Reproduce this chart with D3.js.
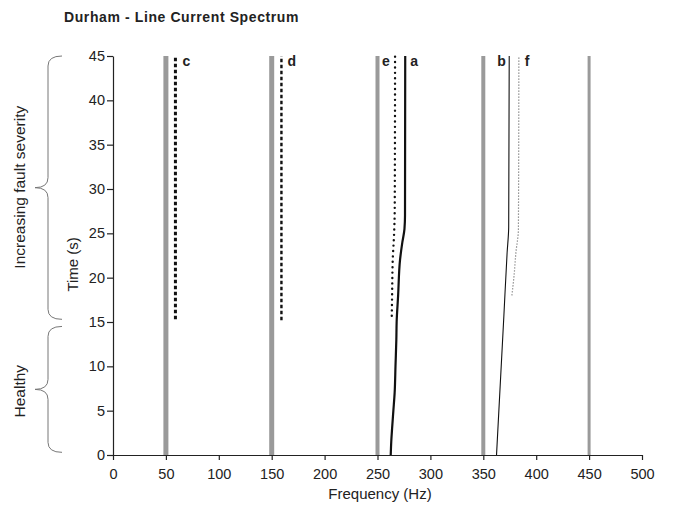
<!DOCTYPE html>
<html>
<head>
<meta charset="utf-8">
<script src="https://cdn.jsdelivr.net/npm/d3@7"></script>
<style>
  body { margin: 0; background: #fff; }
  svg { font-family: "Liberation Sans", Arial, sans-serif; }
</style>
</head>
<body>
<svg width="674" height="507"></svg>
<script>
// harmonic lines of the supply (Hz)
const harmonics = [50, 150, 250, 350, 450];
const harmonicWidths = [5, 5, 4, 4, 3];

// traced fault components: [time (s), frequency (Hz)]
const seriesA = [[0, 262.5], [1.5, 263], [3, 263.8], [5, 265], [7, 266.2], [10, 267], [13, 267.8],
  [15, 268.1], [18, 269.5], [22, 271.3], [24, 273.5], [25.5, 275.5], [27, 276], [45, 276.2]];
const seriesB = [[0, 362.5], [15.6, 369.4], [22.8, 372.5], [25.7, 374], [45, 374.5]];
const seriesC = [[15.3, 59], [45, 59]];
const seriesD = [[15.2, 159.2], [45, 159.2]];
const seriesE = [[15.7, 263.5], [18, 263.8], [22, 264.4], [25, 265.7], [28, 266.3], [45, 266.6]];
const seriesF = [[18, 377], [20.5, 379.3], [22.8, 380.8], [25.5, 383.2], [45, 383.6]];

const xTicks = [0, 50, 100, 150, 200, 250, 300, 350, 400, 450, 500];
const yTicks = [0, 5, 10, 15, 20, 25, 30, 35, 40, 45];

const svg = d3.select('svg');

const xScale = d3.scaleLinear().domain([0, 500]).range([113, 642]);
const yScale = d3.scaleLinear().domain([0, 45]).range([455, 56]);

// title
svg.append('text')
    .attr('x', 64)
    .attr('y', 22)
    .attr('font-size', 14)
    .attr('font-weight', 'bold')
    .attr('letter-spacing', 0.6)
    .attr('fill', '#222')
    .text('Durham - Line Current Spectrum');

// harmonic bars
svg.append('g')
    .selectAll('line')
    .data(harmonics)
    .join('line')
    .attr('x1', d => xScale(d))
    .attr('x2', d => xScale(d))
    .attr('y1', yScale(0))
    .attr('y2', yScale(45))
    .attr('stroke', '#9a9a9a')
    .attr('stroke-width', (d, i) => harmonicWidths[i]);

const line = d3.line()
    .x(d => xScale(d[1]))
    .y(d => yScale(d[0]))
    .curve(d3.curveMonotoneY);

const traces = [
  {name: 'a', data: seriesA, color: '#111', width: 2.2, dash: null, cap: 'butt', dx: 5},
  {name: 'b', data: seriesB, color: '#111', width: 1.1, dash: null, cap: 'butt', dx: -12},
  {name: 'c', data: seriesC, color: '#111', width: 3, dash: '3.5,2.5', cap: 'butt', dx: 7},
  {name: 'd', data: seriesD, color: '#111', width: 2.4, dash: '3.5,2.5', cap: 'butt', dx: 6},
  {name: 'e', data: seriesE, color: '#111', width: 2.4, dash: '0,5.4', cap: 'round', dx: -13},
  {name: 'f', data: seriesF, color: '#777', width: 1.2, dash: '1.2,1.8', cap: 'butt', dx: 6},
];

traces.forEach(t => {
  svg.append('path')
      .attr('d', line(t.data))
      .attr('fill', 'none')
      .attr('stroke', t.color)
      .attr('stroke-width', t.width)
      .attr('stroke-linecap', t.cap)
      .attr('stroke-dasharray', t.dash);
  const top = t.data[t.data.length - 1];
  svg.append('text')
      .attr('x', xScale(top[1]) + t.dx)
      .attr('y', yScale(45) + 10)
      .attr('font-size', 14)
      .attr('font-weight', 'bold')
      .attr('fill', '#222')
      .text(t.name);
});

// axes
const xAxis = d3.axisBottom(xScale)
    .tickValues(xTicks)
    .tickSize(5)
    .tickSizeOuter(0);
const xAxisG = svg.append('g')
    .attr('transform', `translate(0, ${yScale(0)})`)
    .call(xAxis);

const yAxis = d3.axisLeft(yScale)
    .tickValues(yTicks)
    .tickSize(6)
    .tickSizeOuter(0);
const yAxisG = svg.append('g')
    .attr('transform', `translate(${xScale(0)}, 0)`)
    .call(yAxis);

[xAxisG, yAxisG].forEach(g => {
  g.selectAll('path, line').attr('stroke', '#222').attr('stroke-width', 1.2);
  g.selectAll('text')
      .attr('font-size', 14.5)
      .attr('fill', '#222')
      .attr('font-family', '"Liberation Sans", Arial, sans-serif');
});
xAxisG.selectAll('text').attr('dy', 0).attr('y', 24);
yAxisG.selectAll('text').attr('x', -8);

svg.append('text')
    .attr('x', 380)
    .attr('y', 499)
    .attr('text-anchor', 'middle')
    .attr('font-size', 15)
    .attr('fill', '#222')
    .text('Frequency (Hz)');

svg.append('text')
    .attr('transform', `translate(78, ${yScale(21.5)}) rotate(-90)`)
    .attr('text-anchor', 'middle')
    .attr('font-size', 15)
    .attr('fill', '#222')
    .text('Time (s)');

// braces
function brace(t0, t1) {
  const x0 = 62, xm = 48, xt = 35;
  const y0 = yScale(t0), y1 = yScale(t1), ym = (y0 + y1) / 2;
  const r = 10;
  return `M${x0},${y0} Q${xm},${y0} ${xm},${y0 - r} L${xm},${ym + r} Q${xm},${ym} ${xt},${ym}` +
      ` Q${xm},${ym} ${xm},${ym - r} L${xm},${y1 + r} Q${xm},${y1} ${x0},${y1}`;
}

svg.append('path')
    .attr('d', brace(15.3, 45))
    .attr('fill', 'none')
    .attr('stroke', '#777')
    .attr('stroke-width', 1);
svg.append('path')
    .attr('d', brace(0.3, 14.5))
    .attr('fill', 'none')
    .attr('stroke', '#777')
    .attr('stroke-width', 1);

svg.append('text')
    .attr('transform', `translate(25, ${yScale(30.2)}) rotate(-90)`)
    .attr('text-anchor', 'middle')
    .attr('font-size', 15.5)
    .attr('fill', '#222')
    .text('Increasing fault severity');

svg.append('text')
    .attr('transform', `translate(25, ${yScale(7.2)}) rotate(-90)`)
    .attr('text-anchor', 'middle')
    .attr('font-size', 15.5)
    .attr('fill', '#222')
    .text('Healthy');
</script>
</body>
</html>
